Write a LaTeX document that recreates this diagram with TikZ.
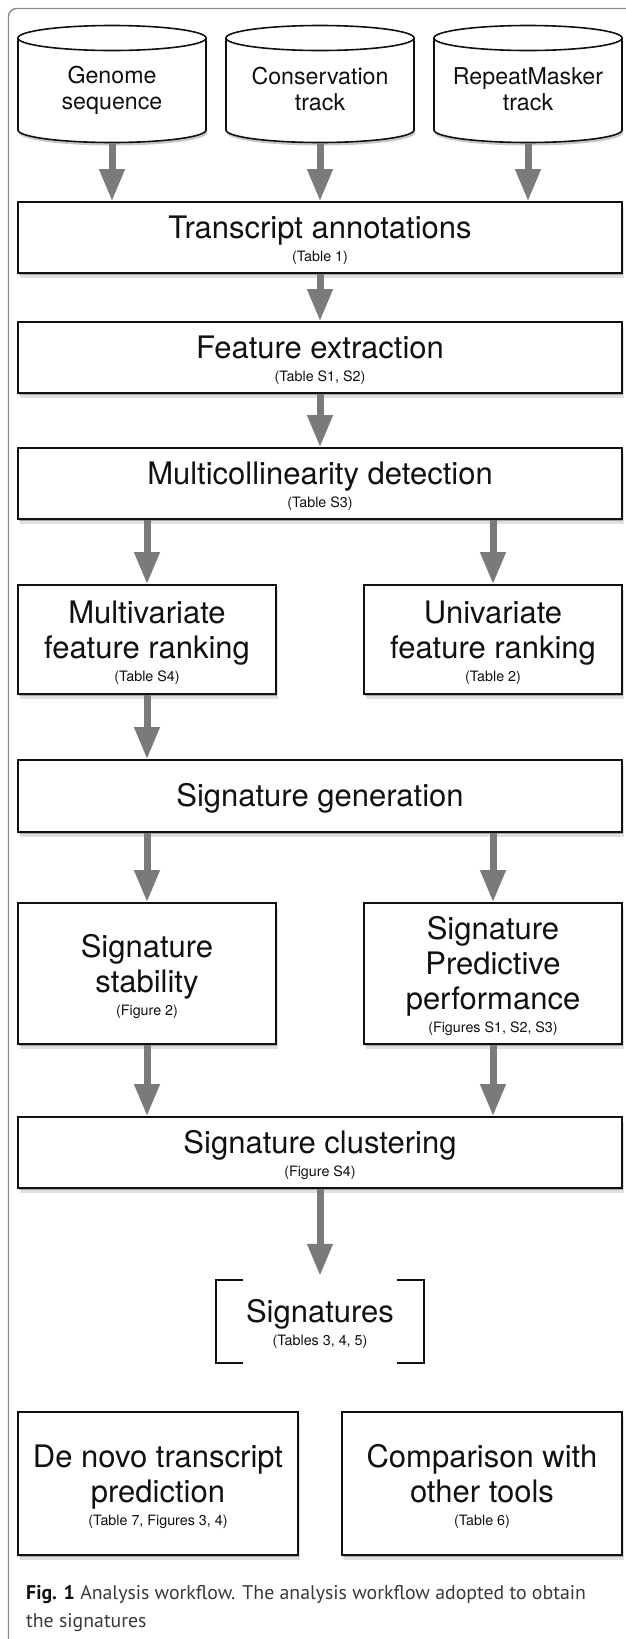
\documentclass[tikz,border=0pt]{standalone}
\usepackage{fontspec}
\setmainfont{TeX Gyre Heros}
\newfontfamily\capfont{PT Sans}
\usetikzlibrary{arrows.meta,shadows,calc}

\definecolor{framecol}{HTML}{8C8C8C}
\definecolor{arrowcol}{HTML}{7A7A7A}
\definecolor{capcol}{HTML}{3A3A3A}
\definecolor{inkcol}{HTML}{111111}

\newcommand\bigfont{\fontsize{31}{35}\selectfont}
\newcommand\smfont{\fontsize{14.3}{16}\selectfont}
\newcommand\cylfont{\fontsize{23.2}{26}\selectfont}
\newcommand\hs{\rule{0pt}{28.3pt}}
\newcommand\cyltop{\rule{0pt}{31pt}}
\newcommand\cylbot{\rule[-5pt]{0pt}{5pt}}

% cylinder outline, #1 = centre x
\newcommand\cylshapeat[1]{%
  \fill[black, opacity=.22] (#1-93,128) -- (#1-93,133)
     arc[start angle=180, end angle=360, x radius=94pt, y radius=12.5pt] -- (#1+95,128) -- cycle;
  \draw[cylshape] (#1-94,38) -- (#1-94,130)
     arc[start angle=180, end angle=360, x radius=94pt, y radius=12.5pt] -- (#1+94,38)
     arc[start angle=0, end angle=180, x radius=94pt, y radius=12.5pt] -- cycle;
  \draw[cylshape, fill=none] (#1-94,38)
     arc[start angle=180, end angle=360, x radius=94pt, y radius=12.5pt];
}

\tikzset{
  boxshadow/.style={
    drop shadow={shadow xshift=1.5pt, shadow yshift=-4.5pt, opacity=.12, fill=black},
    drop shadow={shadow xshift=1pt, shadow yshift=-2pt, opacity=.25, fill=black}},
  stepbox/.style={draw=inkcol, line width=1.6pt, fill=white, rectangle, inner sep=0pt,
    align=center, font=\bigfont, text=inkcol, boxshadow},
  cylnode/.style={rectangle, inner sep=0pt, align=center, font=\cylfont, text=inkcol,
    minimum width=188pt, minimum height=117pt},
  cylshape/.style={draw=inkcol, line width=1.6pt, fill=white},
  flow/.style={draw=arrowcol, line width=7pt, -{Triangle[length=32pt,width=24pt]}},
  bracketline/.style={draw=inkcol, line width=1.6pt},
  wide/.style={minimum width=604pt, minimum height=71pt},
  half/.style={minimum width=258pt},
}

\begin{document}
\begin{tikzpicture}[x=1pt, y=-1pt]
\useasboundingbox (0,0) rectangle (626,1639);
\clip (0,0) rectangle (626,1639);
\fill[white] (0,0) rectangle (626,1639);
\draw[framecol, line width=1.4pt, rounded corners=8pt] (8.5,8.5) rectangle (700,1720);

% data sources
\cylshapeat{112}
\cylshapeat{320}
\cylshapeat{528}
\node[cylnode] (c1) at (112,84) {\cyltop Genome\\sequence\cylbot};
\node[cylnode] (c2) at (320,84) {\cyltop Conservation\\track\cylbot};
\node[cylnode] (c3) at (528,84) {\cyltop RepeatMasker\\track\cylbot};

% steps
\node[stepbox, wide] (ta) at (320,237.5) {\hs Transcript annotations\\[-12pt]{\smfont (Table 1)}};
\node[stepbox, wide] (fe) at (320,357.5) {\hs Feature extraction\\[-12pt]{\smfont (Table S1, S2)}};
\node[stepbox, wide] (mc) at (320,483.5) {\hs Multicollinearity detection\\[-12pt]{\smfont (Table S3)}};
\node[stepbox, half, minimum height=109pt] (mv) at (147,639.5) {\hs Multivariate\\feature ranking\\[-12pt]{\smfont (Table S4)}};
\node[stepbox, half, minimum height=109pt] (uv) at (493,639.5) {\hs Univariate\\feature ranking\\[-12pt]{\smfont (Table 2)}};
\node[stepbox, wide, minimum height=72pt] (sg) at (320,796) {\hs Signature generation};
\node[stepbox, half, minimum height=141pt] (ss) at (147,973.5) {\hs Signature\\stability\\[-12pt]{\smfont (Figure 2)}};
\node[stepbox, half, minimum height=141pt] (sp) at (493,973.5) {\hs Signature\\Predictive\\performance\\[-12pt]{\smfont (Figures S1, S2, S3)}};
\node[stepbox, wide] (sc) at (320,1152.5) {\hs Signature clustering\\[-12pt]{\smfont (Figure S4)}};
\node[rectangle, inner sep=0pt, align=center, font=\bigfont, text=inkcol,
      minimum width=208pt, minimum height=83pt] (sig) at (320,1321.5) {\hs Signatures\\[-12pt]{\smfont (Tables 3, 4, 5)}};
\node[stepbox, minimum width=280pt, minimum height=143pt] (dn) at (158,1483.5) {\hs De novo transcript\\prediction\\[-12pt]{\smfont (Table 7, Figures 3, 4)}};
\node[stepbox, minimum width=280pt, minimum height=143pt] (cw) at (482,1483.5) {\hs Comparison with\\other tools\\[-12pt]{\smfont (Table 6)}};

% brackets round the signatures
\draw[bracketline] ($(sig.north west)+(27,0)$) -- (sig.north west) -- (sig.south west) -- ++(27,0);
\draw[bracketline] ($(sig.north east)+(-27,0)$) -- (sig.north east) -- (sig.south east) -- ++(-27,0);

% connectors
\draw[flow] (c1.south) -- (ta.north -| c1.south);
\draw[flow] (c2.south) -- (ta.north -| c2.south);
\draw[flow] (c3.south) -- (ta.north -| c3.south);
\draw[flow] (ta.south) -- (fe.north);
\draw[flow] (fe.south) -- (mc.north);
\draw[flow] (mc.south -| mv.north) -- (mv.north);
\draw[flow] (mc.south -| uv.north) -- (uv.north);
\draw[flow] (mv.south) -- (sg.north -| mv.south);
\draw[flow] (sg.south -| ss.north) -- (ss.north);
\draw[flow] (sg.south -| sp.north) -- (sp.north);
\draw[flow] (ss.south) -- (sc.north -| ss.south);
\draw[flow] (sp.south) -- (sc.north -| sp.south);
\draw[flow, shorten >=4pt] (sc.south) -- (sig.north);

% caption
\node[anchor=north west, inner sep=0pt, align=left, text=capcol,
      font=\capfont\fontsize{19.8}{28}\selectfont] (cap) at (26,1585)
  {{\color{inkcol}\bfseries Fig. 1} Analysis workflow. The analysis workflow adopted to obtain\\the signatures};
\end{tikzpicture}
\end{document}
